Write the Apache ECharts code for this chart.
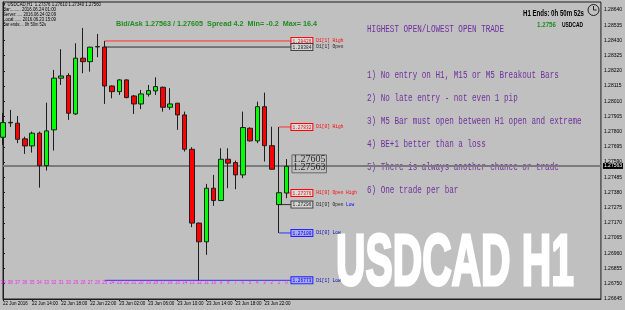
<!DOCTYPE html>
<html>
<head>
<meta charset="utf-8">
<script src="https://cdn.jsdelivr.net/npm/echarts@6/dist/echarts.min.js"></script>
<style>
html, body { margin: 0; padding: 0; background: #c0c0c0; }
#chart { width: 625px; height: 310px; }
</style>
</head>
<body>
<div id="chart"></div>
<script>
// USDCAD H1, 22 Jun 10:00 .. 24 Jun 01:00
const opens  = [1.27761, 1.27860, 1.27858, 1.27750, 1.27701, 1.27789, 1.27565, 1.27812, 1.28169, 1.28187,
                1.27922, 1.28307, 1.28283, 1.28385, 1.28384, 1.28115, 1.28076, 1.28157, 1.28046, 1.27991,
                1.28058, 1.28081, 1.28106, 1.27968, 1.27996, 1.27915, 1.27678, 1.27168, 1.27039, 1.27409,
                1.27324, 1.27609, 1.27586, 1.27501, 1.27823, 1.27736, 1.27972, 1.27703, 1.27296, 1.27376];
const closes = [1.27862, 1.27864, 1.27747, 1.27701, 1.27789, 1.27565, 1.27805, 1.28169, 1.28184, 1.27927,
                1.28307, 1.28283, 1.28383, 1.28387, 1.28115, 1.28076, 1.28157, 1.28035, 1.27991, 1.28060,
                1.28083, 1.28111, 1.27968, 1.27991, 1.27915, 1.27678, 1.27168, 1.27039, 1.27409, 1.27324,
                1.27609, 1.27582, 1.27501, 1.27828, 1.27736, 1.27972, 1.27703, 1.27540, 1.27378, 1.27560];
const lows   = [1.27708, 1.27832, 1.27720, 1.27646, 1.27655, 1.27413, 1.27531, 1.27669, 1.28122, 1.27881,
                1.27915, 1.28203, 1.28214, 1.28314, 1.27991, 1.28030, 1.28053, 1.28030, 1.27922, 1.27955,
                1.28042, 1.28053, 1.27938, 1.27950, 1.27812, 1.27662, 1.27140, 1.26773, 1.26949, 1.27287,
                1.27320, 1.27409, 1.27402, 1.27478, 1.27731, 1.27720, 1.27593, 1.27538, 1.27100, 1.27340];
const highs  = [1.27929, 1.27950, 1.27908, 1.27765, 1.27800, 1.27800, 1.28000, 1.28226, 1.28369, 1.28203,
                1.28410, 1.28516, 1.28385, 1.28474, 1.28426, 1.28118, 1.28162, 1.28162, 1.28053, 1.28088,
                1.28122, 1.28175, 1.28111, 1.28100, 1.27998, 1.27938, 1.27692, 1.27172, 1.27439, 1.27501,
                1.27685, 1.27685, 1.27600, 1.27938, 1.27830, 1.28007, 1.28069, 1.27834, 1.27832, 1.27610];
// bar counter printed under the bars
const barNumbers = [39, 38, 37, 36, 35, 34, 33, 32, 31, 30, 29, 28, 27, 26, 25, 24, 23, 22, 21, 20,
                    19, 18, 17, 16, 15, 14, 13, 12, 11, 10, 9, 8, 7, 6, 5, 4, 3, 2, 1, 0];
const countRow = 1.26753;

const xTickPos = [0, 4, 8, 12, 16, 20, 24, 28, 32, 36];
const xTickLabels = ['22 Jun 2016', '22 Jun 14:00', '22 Jun 18:00', '22 Jun 22:00', '23 Jun 02:00',
                     '23 Jun 06:00', '23 Jun 10:00', '23 Jun 14:00', '23 Jun 18:00', '23 Jun 22:00'];
const yTicks = [1.28640, 1.28535, 1.28430, 1.28325, 1.28220, 1.28115, 1.28010, 1.27905, 1.27800, 1.27695,
                1.27590, 1.27485, 1.27380, 1.27275, 1.27170, 1.27065, 1.26960, 1.26855, 1.26750, 1.26645];

// D1 / H1 levels
const levelNames  = ['D1[1] High', 'D1[1] Open', 'D1[0] High', 'H1[0] Open High', 'D1[0] Open Low', 'D1[0] Low', 'D1[1] Low'];
const levelPrices = [1.28426, 1.28384, 1.27832, 1.27376, 1.27296, 1.27100, 1.26773];
const levelFrom   = [14, 14, 38, 39, 38, 38, 14];
const levelKind   = ['high', 'open', 'high', 'high', 'open', 'low', 'low'];

const bid = 1.27563;
const ask = 1.27605;

const rules = [
  '1) No entry on H1, M15 or M5 Breakout Bars',
  '2) No late entry - not even 1 pip',
  '3) M5 Bar must open between H1 open and extreme',
  '4) BE+1 better than a loss',
  '5) There is always another chance or trade',
  '6) One trade per bar'
];

const kindStyle = {
  high: { line: '#ff3030', border: '#ff0000', fill: '#dcdcdc', text: '#ff0000' },
  open: { line: '#303030', border: '#404040', fill: '#d4d4d4', text: '#202020' },
  low:  { line: '#3030ff', border: '#2020ff', fill: '#a8a8ff', text: '#0000c0' }
};
const labelAt = 39.7;
const xMin = 0, xMax = 82.29;

const chart = echarts.init(document.getElementById('chart'));

const levelSeries = levelNames.map((name, i) => {
  const st = kindStyle[levelKind[i]];
  let txt = '{t|' + name + '}';
  if (name.endsWith('Open Low')) txt = '{o|' + name.replace(' Low', ' ') + '}{lw|Low}';
  return {
    type: 'line',
    z: 1,
    symbol: 'none',
    silent: true,
    data: [[levelFrom[i], levelPrices[i]], [labelAt, levelPrices[i]]],
    lineStyle: { color: st.line, width: 1 },
    endLabel: {
      show: true,
      distance: 0,
      formatter: '{b|' + levelPrices[i].toFixed(5) + '}' + txt,
      rich: {
        b: { fontSize: 4.5, fontFamily: 'Liberation Mono', color: st.text, backgroundColor: st.fill,
             borderColor: st.border, borderWidth: 1, padding: [1, 1, 0, 1] },
        t: { fontSize: 4.5, fontFamily: 'Liberation Mono', color: st.text, padding: [0, 0, 0, 4] },
        o: { fontSize: 4.5, fontFamily: 'Liberation Mono', color: '#202020', padding: [0, 0, 0, 4] },
        lw: { fontSize: 4.5, fontFamily: 'Liberation Mono', color: '#0000ff' }
      }
    }
  };
});

const measureCtx = document.createElement('canvas').getContext('2d');
function fitText(text, x, y, font, width, fill, extra) {
  measureCtx.font = font;
  const w = measureCtx.measureText(text).width;
  const el = {
    type: 'text', x: x, y: y, scaleX: width / w, silent: true,
    style: { text: text, font: font, fill: fill, verticalAlign: 'middle' }
  };
  if (extra) Object.assign(el.style, extra);
  return el;
}

const ruleFont = '11px "Liberation Mono"';
measureCtx.font = ruleFont;
const ruleScale = 137 / measureCtx.measureText('HIGHEST OPEN/LOWEST OPEN TRADE').width;
const ruleYs = [75, 98, 121, 144, 167, 190];

const graphics = [
  fitText('\u25BC USDCAD,H1  1.27376 1.27610 1.27340 1.27560', 2, 5, '5px "Liberation Sans"', 99, '#000'),
  fitText('Bar:........ 2016.06.24 01:00', 3, 10, '4.5px "Liberation Sans"', 53, '#000'),
  fitText('Server:..... 2016.06.24 02:09', 3, 15, '4.5px "Liberation Sans"', 53, '#000'),
  fitText('Local:...... 2016.06.23 15:09', 3, 20, '4.5px "Liberation Sans"', 53, '#000'),
  fitText('Bar ends:... 0h 50m 52s', 3, 25, '4.5px "Liberation Sans"', 43, '#000'),
  fitText('Bid/Ask 1.27563 / 1.27605  Spread 4.2  Min= -0.2  Max= 16.4', 116, 24, 'bold 8px "Liberation Sans"', 201, '#1e8c1e'),
  fitText('HIGHEST OPEN/LOWEST OPEN TRADE', 367, 29, ruleFont, 137, '#6e2f9e'),
  fitText('H1 Ends: 0h 50m 52s', 523, 13.5, 'bold 9px "Liberation Sans"', 61, '#000'),
  fitText('1.2756', 537, 25, 'bold 8px "Liberation Sans"', 19, '#1e8c1e'),
  fitText('USDCAD', 562, 25, 'bold 8px "Liberation Sans"', 21, '#000'),
  fitText('USDCAD H1', 336, 265, 'bold 72px "Liberation Sans"', 238, '#ffffff', { stroke: '#ffffff', lineWidth: 3 }),
  { type: 'circle', silent: true, shape: { cx: 593.5, cy: 10, r: 5.5 }, style: { fill: 'none', stroke: '#202020', lineWidth: 1 } },
  { type: 'polyline', silent: true, shape: { points: [[593.5, 6], [593.5, 10], [596.5, 10]] }, style: { fill: 'none', stroke: '#202020', lineWidth: 1 } }
];
rules.forEach((r, i) => {
  graphics.push({
    type: 'text', x: 367, y: ruleYs[i], scaleX: ruleScale, silent: true,
    style: { text: r, font: ruleFont, fill: '#6e2f9e', verticalAlign: 'middle' }
  });
});

const option = {
  backgroundColor: '#c0c0c0',
  animation: false,
  grid: { left: 1.8, right: 20, top: 2, bottom: 11, show: true, borderColor: '#1e1e1e', borderWidth: 1 },
  xAxis: {
    type: 'value',
    min: xMin,
    max: xMax,
    splitLine: { show: false },
    axisLine: { show: true, onZero: false, lineStyle: { color: '#1e1e1e' } },
    axisTick: { show: true, customValues: xTickPos, length: 2, lineStyle: { color: '#1e1e1e' } },
    axisLabel: {
      customValues: xTickPos,
      formatter: v => xTickLabels[xTickPos.indexOf(v)] || '',
      align: 'left', fontSize: 4.5, color: '#000', margin: 2.5, fontFamily: 'Liberation Sans'
    }
  },
  yAxis: {
    type: 'value',
    position: 'right',
    min: 1.26644,
    max: 1.28695,
    splitLine: { show: false },
    axisLine: { show: true, lineStyle: { color: '#1e1e1e' } },
    axisTick: { show: true, customValues: yTicks, length: 2, lineStyle: { color: '#1e1e1e' } },
    axisLabel: {
      customValues: yTicks,
      formatter: v => v.toFixed(5),
      fontSize: 5, color: '#000', margin: 3, fontFamily: 'Liberation Sans'
    }
  },
  series: levelSeries.concat([
    {
      // bid line across the chart, price tag on the axis
      type: 'line',
      z: 2,
      symbol: 'none',
      silent: true,
      data: [[xMin, bid], [xMax, bid]],
      lineStyle: { color: '#7a7a7a', width: 2 },
      endLabel: {
        show: true, distance: 2, formatter: bid.toFixed(5),
        backgroundColor: '#000', color: '#fff', fontSize: 5, padding: [1, 1, 0, 1], fontFamily: 'Liberation Sans'
      }
    },
    {
      type: 'candlestick',
      z: 3,
      barWidth: 5,
      data: opens.map((o, i) => [i, o, closes[i], lows[i], highs[i]]),
      encode: { x: 0, y: [1, 2, 3, 4] },
      itemStyle: { color: '#00ff00', color0: '#ff0000', borderColor: '#1e1e1e', borderColor0: '#1e1e1e', borderWidth: 1 }
    },
    {
      type: 'scatter',
      z: 4,
      silent: true,
      symbolSize: 1,
      itemStyle: { color: 'rgba(0,0,0,0)' },
      data: barNumbers.map((n, i) => [i, countRow]),
      label: {
        show: true, position: 'inside',
        formatter: p => String(barNumbers[p.dataIndex]),
        color: '#ff00ff', fontSize: 4.5, fontFamily: 'Liberation Sans'
      }
    },
    {
      type: 'scatter',
      z: 5,
      silent: true,
      symbolSize: 1,
      itemStyle: { color: 'rgba(0,0,0,0)' },
      data: [[labelAt, ask]],
      label: {
        show: true, position: 'right', distance: 0,
        formatter: ask.toFixed(5) + '\n' + bid.toFixed(5),
        fontSize: 10, lineHeight: 8, color: '#000', fontFamily: 'Liberation Serif',
        borderColor: '#505050', borderWidth: 1, padding: [1, 1, 1, 1], offset: [0, 4]
      }
    }
  ]),
  graphic: graphics
};

chart.setOption(option);
</script>
</body>
</html>
